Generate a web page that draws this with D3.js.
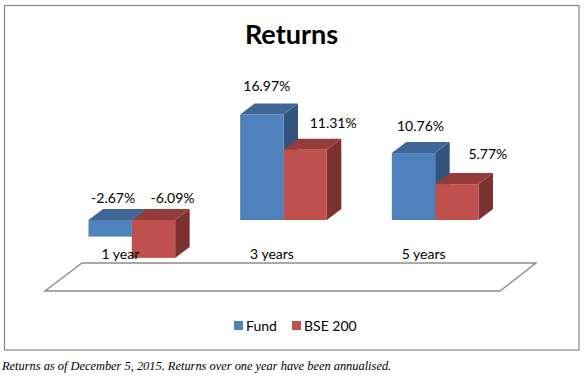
<!DOCTYPE html>
<html>
<head>
<meta charset="utf-8">
<script src="https://cdn.jsdelivr.net/npm/d3@7"></script>
<style>
  html, body { margin: 0; padding: 0; background: #fff; }
  svg { display: block; }
  text { font-family: Lato, "Open Sans", sans-serif; fill: #000; }
</style>
</head>
<body>
<div id="chart"></div>
<script>
const categories = ["1 year", "3 years", "5 years"];
const seriesNames = ["Fund", "BSE 200"];
const fund = [-2.67, 16.97, 10.76];
const bse200 = [-6.09, 11.31, 5.77];

drawChart();

function drawChart() {
  const width = 585;
  const height = 378;

  const colors = {
    "Fund": { front: "#4f81bd", top: "#3f6695", side: "#32547e" },
    "BSE 200": { front: "#c0504d", top: "#943c3a", side: "#7a3230" }
  };

  // data labels were hand placed in the original, so offset them per bar
  const labelNudge = {
    "Fund": [[3, -17], [5, -23], [7, -22]],
    "BSE 200": [[19, -17], [28, -22], [31, -25]]
  };

  const svg = d3.select("#chart")
    .append("svg")
    .attr("width", width)
    .attr("height", height)
    .attr("viewBox", `0 0 ${width} ${height}`);

  // chart frame
  svg.append("rect")
    .attr("x", 4.5)
    .attr("y", 5.5)
    .attr("width", 574.5)
    .attr("height", 344.5)
    .attr("fill", "#fff")
    .attr("stroke", "#868686")
    .attr("stroke-width", 1.2);

  svg.append("text")
    .attr("x", 291.5)
    .attr("y", 44)
    .attr("text-anchor", "middle")
    .attr("font-size", 27)
    .attr("font-weight", 700)
    .text("Returns");

  // scales
  const x = d3.scaleBand()
    .domain(categories)
    .range([56, 511])
    .paddingInner(0.4286)
    .paddingOuter(0.2143);

  const xInner = d3.scaleBand()
    .domain(seriesNames)
    .range([0, x.bandwidth()]);

  const y = d3.scaleLinear()
    .domain([-10, 20])
    .range([282.2, 95.6]);

  const depthX = 14.5;
  const depthY = 11;

  // floor
  const floorY = d3.scaleLinear().domain([0, 1]).range([291, 263]);
  const floorPts = [
    [45, floorY(0)], [500, floorY(0)], [536, floorY(1)], [82, floorY(1)]
  ];
  svg.append("path")
    .attr("d", d3.line()(floorPts) + "Z")
    .attr("fill", "#fff")
    .attr("stroke", "#8c8c8c")
    .attr("stroke-width", 1.4);

  // bars
  const bars = [];
  seriesNames.forEach((name, s) => {
    const values = s === 0 ? fund : bse200;
    values.forEach((v, i) => bars.push({ name, cat: categories[i], i, v }));
  });

  // draw category by category so red always sits over blue
  categories.forEach(cat => {
    bars.filter(d => d.cat === cat).forEach(d => {
      const x0 = x(d.cat) + xInner(d.name);
      const x1 = x0 + xInner.bandwidth();
      const yTop = y(Math.max(d.v, 0));
      const yBot = y(Math.min(d.v, 0));
      const c = colors[d.name];
      const g = svg.append("g");

      g.append("path")
        .attr("d", d3.line()([[x1, yTop], [x1 + depthX, yTop - depthY], [x1 + depthX, yBot - depthY], [x1, yBot]]) + "Z")
        .attr("fill", c.side);
      g.append("path")
        .attr("d", d3.line()([[x0, yTop], [x0 + depthX, yTop - depthY], [x1 + depthX, yTop - depthY], [x1, yTop]]) + "Z")
        .attr("fill", c.top);
      g.append("rect")
        .attr("x", x0)
        .attr("y", yTop)
        .attr("width", x1 - x0)
        .attr("height", yBot - yTop)
        .attr("fill", c.front);
    });
  });

  // data labels
  svg.selectAll("text.value")
    .data(bars)
    .enter()
    .append("text")
    .attr("class", "value")
    .attr("x", d => x(d.cat) + xInner(d.name) + xInner.bandwidth() / 2 + labelNudge[d.name][d.i][0])
    .attr("y", d => y(Math.max(d.v, 0)) + labelNudge[d.name][d.i][1])
    .attr("text-anchor", "middle")
    .attr("font-size", 14)
    .text(d => d.v.toFixed(2) + "%");

  // category labels
  svg.selectAll("text.cat")
    .data(categories)
    .enter()
    .append("text")
    .attr("class", "cat")
    .attr("x", d => x(d) + x.bandwidth() / 2 - 11.5)
    .attr("y", 259)
    .attr("text-anchor", "middle")
    .attr("font-size", 14)
    .text(d => d);

  // legend
  const legendX = d3.scaleOrdinal().domain(seriesNames).range([234, 292]);
  const legend = svg.selectAll("g.legend")
    .data(seriesNames)
    .enter()
    .append("g")
    .attr("class", "legend")
    .attr("transform", d => `translate(${legendX(d)},321)`);
  legend.append("rect")
    .attr("width", 9)
    .attr("height", 9)
    .attr("fill", d => colors[d].front);
  legend.append("text")
    .attr("x", 12)
    .attr("y", 10)
    .attr("font-size", 14)
    .text(d => d);

  // footnote
  svg.append("text")
    .attr("x", 2)
    .attr("y", 370)
    .attr("font-size", 12.4)
    .attr("font-style", "italic")
    .style("font-family", "'Liberation Serif', serif")
    .text("Returns as of December 5, 2015. Returns over one year have been annualised.");
}
</script>
</body>
</html>
